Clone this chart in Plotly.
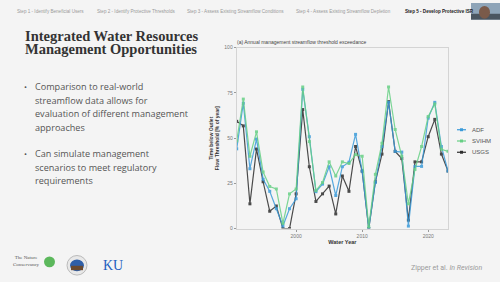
import plotly.graph_objects as go

years = list(range(1991, 2024))
adf = [44.1, 69.3, 33.1, 49.5, 27.3, 20.6, 11.0, 1.4, 11.0, 16.5,
       77.0, 50.8, 20.4, 24.6, 34.2, 18.3, 34.2, 36.7, 52.1, 31.8,
       0.0, 25.5, 45.4, 69.8, 42.7, 42.3, 1.4, 34.4, 34.4, 61.1,
       69.8, 45.4, 31.8]
svihm = [48.5, 71.6, 40.0, 53.5, 31.3, 23.3, 21.9, 2.9, 19.2, 21.9,
         78.3, 48.1, 21.0, 25.5, 36.9, 29.1, 36.9, 36.0, 40.9, 40.0,
         1.0, 30.0, 47.2, 78.3, 54.8, 40.0, 13.7, 32.7, 45.4, 62.0,
         68.9, 43.9, 42.7]
usgs = [59.3, 56.8, 13.7, 44.0, 25.9, 9.6, 12.5, 0.0, 0.0, 19.2,
        65.8, 34.2, 15.0, 19.2, 23.5, 8.1, 29.1, 20.6, 45.4, 31.8,
        0.0, 25.9, 41.2, 70.2, 42.7, 38.7, 4.7, 36.9, 36.9, 50.8,
        60.4, 41.2, 31.8]

series_names = ["ADF", "SVIHM", "USGS"]
series_vals = [adf, svihm, usgs]
colors = ["#3a9ad9", "#66cf84", "#2e2e2e"]

nav_labels = ["Step 1 - Identify Beneficial Users",
              "Step 2 - Identify Protective Thresholds",
              "Step 3 - Assess Existing Streamflow Conditions",
              "Step 4 - Assess Existing Streamflow Depletion",
              "Step 5 - Develop Protective ISR"]
nav_x = [15, 95, 185, 294, 403]

W, H = 500, 282
BG = "#f4f4f4"

def px(x):
    return x / W

def py(y):
    return 1 - y / H

fig = go.Figure()
for i in [2, 0, 1]:
    fig.add_trace(go.Scatter(
        x=years, y=series_vals[i], mode="lines+markers", name=series_names[i],
        line=dict(color=colors[i], width=1.2),
        marker=dict(color=colors[i], size=3, symbol="square"),
        opacity=0.85, showlegend=False))

x0, x1 = px(236.7), px(448)
y0, y1 = py(230.5), py(45.7)

fig.update_layout(
    width=W, height=H,
    margin=dict(l=0, r=0, t=0, b=0),
    paper_bgcolor=BG, plot_bgcolor=BG,
    showlegend=False,
    xaxis=dict(domain=[x0, x1], range=[1991, 2023], tickvals=[2000, 2010, 2020],
               ticks="outside", ticklen=2, tickcolor="#999", tickwidth=0.8,
               tickfont=dict(size=5, color="#777", family="Arial"),
               showgrid=False, zeroline=False, showline=True, linecolor="#d4d4d4",
               linewidth=1, mirror=True,
               title=dict(text="<b>Water Year</b>", font=dict(size=5.5, color="#333", family="Arial"),
                          standoff=1)),
    yaxis=dict(domain=[y0, y1], range=[0, 100], tickvals=[0, 25, 50, 75, 100],
               ticks="outside", ticklen=2, tickcolor="#999", tickwidth=0.8,
               tickfont=dict(size=5, color="#777", family="Arial"),
               showgrid=False, zeroline=False, showline=True, linecolor="#d4d4d4",
               linewidth=1, mirror=True,
               title=dict(text="<b>Time below Outlet<br>Flow Threshold [% of year]</b>",
                          font=dict(size=5, color="#333", family="Arial"), standoff=4)),
)

ann = []
# chart title
ann.append(dict(x=px(235), y=py(40), xref="paper", yref="paper", xanchor="left", yanchor="middle",
                text="(a) Annual management streamflow threshold exceedance", showarrow=False,
                font=dict(size=5, color="#444", family="Arial")))
# legend
shapes = []
leg_y = [129.5, 141, 152.5]
for i in range(3):
    yy = py(leg_y[i])
    shapes.append(dict(type="line", xref="paper", yref="paper", x0=px(457), x1=px(466), y0=yy, y1=yy,
                       line=dict(color=colors[i], width=1.2)))
    shapes.append(dict(type="rect", xref="paper", yref="paper", x0=px(460), x1=px(463),
                       y0=py(leg_y[i] + 1.5), y1=py(leg_y[i] - 1.5), fillcolor=colors[i], line=dict(width=0)))
    ann.append(dict(x=px(470), y=yy, xref="paper", yref="paper", xanchor="left", yanchor="middle",
                    text=series_names[i], showarrow=False, font=dict(size=6, color="#555", family="Arial")))

# nav bar
for j, (t, xx) in enumerate(zip(nav_labels, nav_x)):
    ann.append(dict(x=px(xx), y=py(8.5), xref="paper", yref="paper", xanchor="left", yanchor="middle",
                    text=("<b>%s</b>" % t) if j == 4 else t, showarrow=False,
                    font=dict(size=4.6, color="#222" if j == 4 else "#9a9a9a", family="Arial")))
# webcam
shapes.append(dict(type="rect", xref="paper", yref="paper", x0=px(471), x1=1, y0=py(17), y1=1,
                   fillcolor="#8ea4b8", line=dict(width=0)))
shapes.append(dict(type="rect", xref="paper", yref="paper", x0=px(471), x1=1, y0=py(17), y1=py(11),
                   fillcolor="#4a5560", line=dict(width=0)))
shapes.append(dict(type="circle", xref="paper", yref="paper", x0=px(479), x1=px(490), y0=py(16), y1=py(3),
                   fillcolor="#7a5a4a", line=dict(width=0)))

# slide title
ann.append(dict(x=px(23), y=py(34), xref="paper", yref="paper", xanchor="left", yanchor="middle",
                text="<b>Integrated Water Resources</b>", showarrow=False,
                font=dict(size=14.5, color="#333", family="Liberation Serif")))
ann.append(dict(x=px(23), y=py(47), xref="paper", yref="paper", xanchor="left", yanchor="middle",
                text="<b>Management Opportunities</b>", showarrow=False,
                font=dict(size=14.5, color="#333", family="Liberation Serif")))

bullet_lines = [(["Comparison to real-world", "streamflow data allows for",
                  "evaluation of different management", "approaches"], 85.7),
                (["Can simulate management", "scenarios to meet regulatory",
                  "requirements"], 154)]
for lines, ystart in bullet_lines:
    ann.append(dict(x=px(25), y=py(ystart), xref="paper", yref="paper", xanchor="center", yanchor="middle",
                    text="•", showarrow=False, font=dict(size=8, color="#555", family="Open Sans")))
    for k, ln in enumerate(lines):
        ann.append(dict(x=px(32.5), y=py(ystart + k * 13.7), xref="paper", yref="paper",
                        xanchor="left", yanchor="middle", text=ln, showarrow=False,
                        font=dict(size=9.1, color="#555", family="Open Sans")))

# footer
ann.append(dict(x=px(484), y=py(270.5), xref="paper", yref="paper", xanchor="right", yanchor="middle",
                text="Zipper et al. <i>In Revision</i>", showarrow=False,
                font=dict(size=7, color="#9a9a9a", family="Roboto")))
# logos
ann.append(dict(x=px(26), y=py(264), xref="paper", yref="paper", xanchor="center", yanchor="middle",
                text="The Nature<br>Conservancy", showarrow=False,
                font=dict(size=5, color="#555", family="Liberation Serif")))
shapes.append(dict(type="circle", xref="paper", yref="paper", x0=px(44), x1=px(55), y0=py(270), y1=py(259),
                   fillcolor="#5cb85c", line=dict(width=0)))
shapes.append(dict(type="circle", xref="paper", yref="paper", x0=px(67), x1=px(87), y0=py(278), y1=py(258),
                   fillcolor="#e8e8e8", line=dict(color="#bbb", width=1)))
shapes.append(dict(type="circle", xref="paper", yref="paper", x0=px(70), x1=px(84), y0=py(274), y1=py(262),
                   fillcolor="#2f5fa8", line=dict(width=0)))
shapes.append(dict(type="rect", xref="paper", yref="paper", x0=px(71), x1=px(83), y0=py(273), y1=py(268.5),
                   fillcolor="#6a4a30", line=dict(width=0)))
ann.append(dict(x=px(113), y=py(268), xref="paper", yref="paper", xanchor="center", yanchor="middle",
                text="KU", showarrow=False,
                font=dict(size=14, color="#1f5fbf", family="Liberation Serif")))

fig.update_layout(annotations=ann, shapes=shapes)
fig.write_html("out.html")
